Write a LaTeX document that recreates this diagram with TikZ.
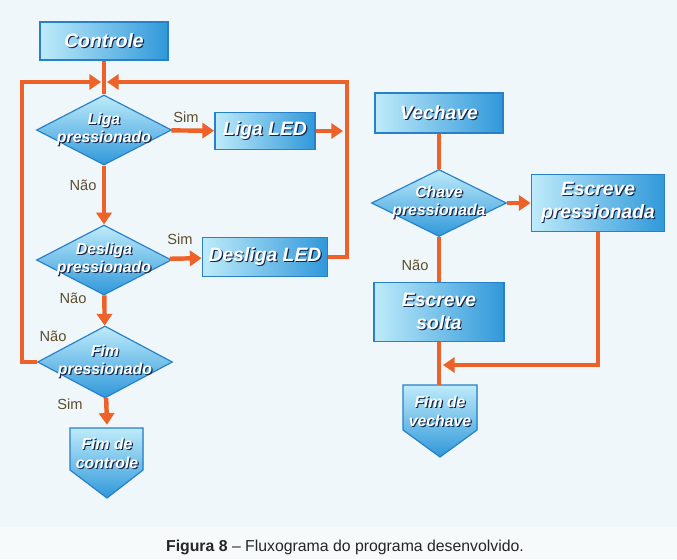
\documentclass[tikz,border=0pt]{standalone}
\usepackage{fontspec}
\setmainfont{Liberation Sans}
\usepackage{tikz}
\usetikzlibrary{shapes.geometric,arrows.meta}

\definecolor{fluxo}{RGB}{238,98,42}
\definecolor{caixaclara}{RGB}{190,235,250}
\definecolor{caixaescura}{RGB}{48,152,218}
\definecolor{borda}{RGB}{40,128,200}
\definecolor{sombra}{RGB}{22,40,75}
\definecolor{rotulo}{RGB}{92,78,45}
\definecolor{fundo}{RGB}{239,247,250}
\definecolor{faixa}{RGB}{246,250,250}

% texto branco com sombra escura
\newcommand{\sombreado}[1]{\leavevmode\rlap{\kern1pt\raisebox{-1pt}{\textcolor{sombra}{#1}}}\textcolor{white}{#1}}
\newcommand{\linhas}[1]{\makebox[0pt]{\begin{tabular}{@{}c@{}}#1\end{tabular}}}

\begin{document}
\begin{tikzpicture}[x=0.03cm,y=-0.03cm,
	caixa/.style={rectangle,draw=borda,line width=1.6pt,left color=caixaclara,right color=caixaescura,
		inner sep=0pt,font=\fontsize{16.5}{19.5}\selectfont\bfseries\itshape},
	losango/.style={diamond,draw=borda,line width=1pt,top color=caixaclara,bottom color=caixaescura,
		inner sep=0pt,minimum width=4.05cm,minimum height=2.1cm,font=\fontsize{13.5}{15.5}\selectfont\bfseries\itshape},
	fimforma/.style={draw=borda,line width=1pt,top color=caixaclara,bottom color=caixaescura},
	fimtexto/.style={rectangle,inner sep=0pt,font=\fontsize{13.5}{16.5}\selectfont\bfseries\itshape},
	seta/.style={draw=fluxo,line width=3.8pt,-{Triangle[length=10pt,width=13pt]}},
	linha/.style={draw=fluxo,line width=3.8pt},
	resp/.style={text=rotulo,font=\fontsize{12.5}{14}\selectfont}]
			\useasboundingbox (0,0) rectangle (677,559);
			\fill[fundo] (0,0) rectangle (677,527);
			\fill[faixa] (0,527) rectangle (677,559);
			\coordinate (voltaE) at (22,82);
			\coordinate (voltaD) at (347,82);
			\coordinate (entradaE) at (101,82);
			\coordinate (entradaD) at (107,82);
			\coordinate (ligadir) at (343,131);
			\coordinate (retorno) at (443,365);
			% Controle
			\node[caixa,minimum width=3.84cm,minimum height=1.14cm] (controle) at (104,41) {\sombreado{Controle}};
			\node[losango] (liga) at (104,130) {\linhas{\sombreado{Liga}\\\sombreado{pressionado}}};
			\node[caixa,minimum width=3.0cm,minimum height=1.11cm] (ligaled) at (265,131) {\sombreado{Liga LED}};
			\node[losango] (desliga) at (104,260) {\linhas{\sombreado{Desliga}\\\sombreado{pressionado}}};
			\node[caixa,minimum width=3.75cm,minimum height=1.17cm] (desligaled) at (265,257) {\sombreado{Desliga LED}};
			\node[losango,minimum height=2.16cm] (fimpress) at (105,362) {\linhas{\sombreado{Fim}\\\sombreado{pressionado}}};
			\filldraw[fimforma] (70,428) -- (143,428) -- (143,470) -- (107,498) -- (70,470) -- cycle;
			\node[fimtexto,minimum width=2.19cm,minimum height=1.8cm] (fimctrl) at (107,455) {\linhas{\sombreado{Fim de}\\\sombreado{controle}}};
			\draw[linha] (controle) -- (liga);
			\draw[seta] (liga) -- (ligaled);
			\draw[seta] (ligaled) -- (ligadir);
			\draw[seta] (desliga) -- (desligaled);
			\draw[seta] (liga) -- (desliga);
			\draw[seta] (desliga) -- (fimpress);
			\draw[seta] (fimpress) -- (fimctrl.north);
			\draw[seta] (fimpress.west) -| (voltaE) -- (entradaE);
			\draw[seta] (desligaled.east) -| (voltaD) -- (entradaD);
			\node[resp] (sim1) at (186,117) {Sim};
			\node[resp] (sim2) at (180,239) {Sim};
			\node[resp] (nao1) at (83,185) {Não};
			\node[resp] (nao2) at (73,298) {Não};
			\node[resp] (nao3) at (53,336) {Não};
			\node[resp] (sim3) at (70,404) {Sim};
			% Vechave
			\node[caixa,minimum width=3.84cm,minimum height=1.2cm] (vechave) at (439,113) {\sombreado{Vechave}};
			\node[losango,minimum height=2.01cm] (chave) at (439,203) {\linhas{\sombreado{Chave}\\\sombreado{pressionada}}};
			\node[caixa,minimum width=3.99cm,minimum height=1.71cm,align=center] (escrevep) at (598,203) {\sombreado{Escreve}\\\sombreado{pressionada}};
			\node[caixa,minimum width=3.9cm,minimum height=1.77cm,align=center] (escreves) at (439,312) {\sombreado{Escreve}\\\sombreado{solta}};
			\filldraw[fimforma] (403,385) -- (477,385) -- (477,430) -- (440,457) -- (403,430) -- cycle;
			\node[fimtexto,minimum width=2.22cm,minimum height=1.68cm] (fimvec) at (440,413) {\linhas{\sombreado{Fim de}\\\sombreado{vechave}}};
			\draw[linha] (vechave) -- (chave);
			\draw[seta] (chave) -- (escrevep);
			\draw[linha] (chave) -- (escreves);
			\draw[linha] (escreves) -- (escreves |- fimvec.north);
			\draw[seta] (escrevep.south) |- (retorno);
			\node[resp] (nao4) at (415,265) {Não};
			\node[font=\fontsize{13.5}{16}\selectfont,text=black!85] (legenda) at (345,547) {\textbf{Figura 8} -- Fluxograma do programa desenvolvido.};
			\end{tikzpicture}
\end{document}
